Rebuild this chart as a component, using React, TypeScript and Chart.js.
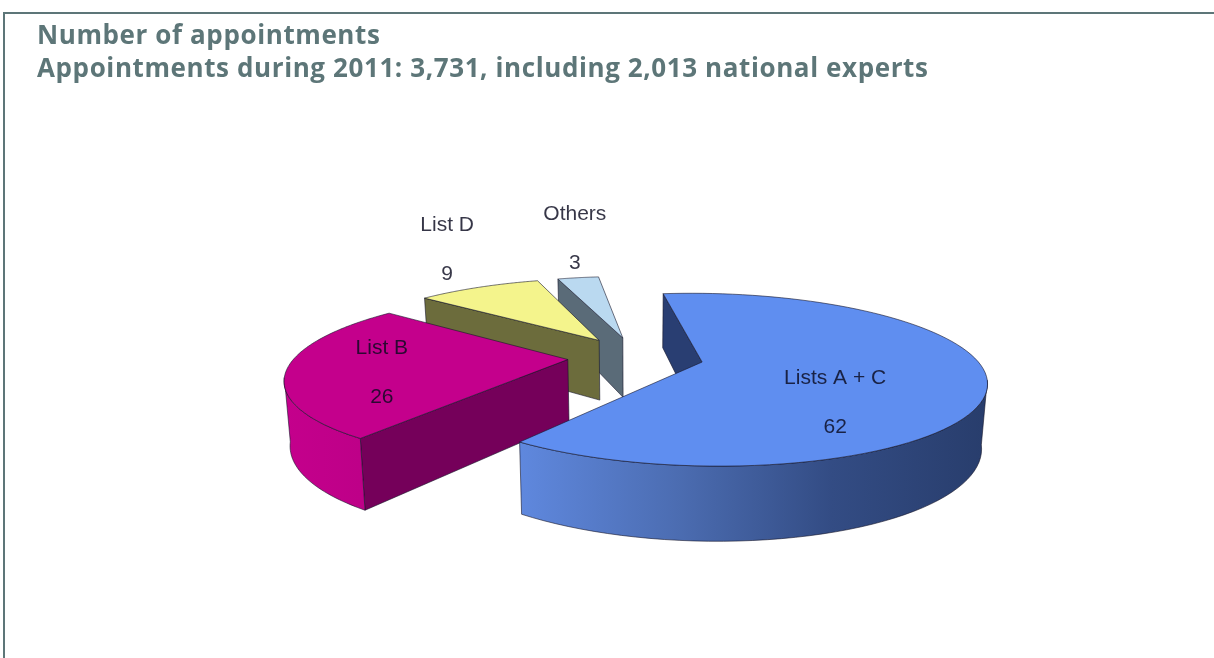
import React, { useEffect, useRef } from "react";
import Chart from "chart.js/auto";

const titleLines = [
  "Number of appointments",
  "Appointments during 2011: 3,731, including 2,013 national experts",
];
const categories = ["Lists A + C", "List B", "List D", "Others"];
const shares = [62, 26, 9, 3];
const topColors = ["#5f8ef0", "#c4008c", "#f4f48c", "#bad9f0"];
const cutColors = ["#293e72", "#75005a", "#6c6c3c", "#5a6b78"];
const wallStops: string[][] = [
  ["#5f88de", "#4c6db2", "#334c84", "#283d6c"],
  ["#c4008c", "#be0088"],
  ["#6c6c3c", "#6c6c3c"],
  ["#5a6b78", "#5a6b78"],
];
const labelOffsets = [
  [133, 40],
  [-186, 13],
  [-152, -91],
  [-48, -100],
];
const explodes = [0.24, 0.25, 0.255, 0.25];

// camera model of the tilted pie
const CX = 637, CY = 357, RX = 277, RY = 82, PERSP = 0.205;
const RADIUS = 0.985;

const project = (u: number, v: number) => {
  const w = 1 + PERSP * v;
  return { x: CX + (RX * u) / w, y: CY - (RY * v) / w };
};
const extrude = (p: { x: number; y: number }) => ({
  x: p.x + (CX - p.x) * 0.017,
  y: p.y + 54 + (p.y - 294) * 0.123,
});

const pie3d = {
  id: "pie3d",
  beforeDraw(chart: any) {
    chart.ctx.letterSpacing = "0.6px";
  },
  beforeDatasetsDraw(chart: any) {
    const ctx: CanvasRenderingContext2D = chart.ctx;
    ctx.letterSpacing = "0px";
    const arcs = chart.getDatasetMeta(0).data;
    const edge = "rgba(20,20,40,0.85)";
    for (let i = arcs.length - 1; i >= 0; i--) {
      const arc = arcs[i];
      const a0: number = arc.startAngle, a1: number = arc.endAngle;
      const mid = (a0 + a1) / 2;
      const ou = explodes[i] * Math.cos(mid), ov = -explodes[i] * Math.sin(mid);
      const at = (a: number) => project(ou + RADIUS * Math.cos(a), ov - RADIUS * Math.sin(a));
      const apex = project(ou, ov);
      const n = 90;
      const rim = Array.from({ length: n + 1 }, (_, k) => at(a0 + ((a1 - a0) * k) / n));

      ctx.save();
      ctx.lineWidth = 0.7;
      ctx.lineJoin = "round";
      ctx.strokeStyle = edge;

      // cut face at the start of the slice
      const s = at(a0), sb = extrude(s), ab = extrude(apex);
      ctx.beginPath();
      ctx.moveTo(s.x, s.y);
      ctx.lineTo(apex.x, apex.y);
      ctx.lineTo(ab.x, ab.y);
      ctx.lineTo(sb.x, sb.y);
      ctx.closePath();
      ctx.fillStyle = cutColors[i];
      ctx.fill();
      ctx.stroke();

      // visible part of the outer wall (from the silhouette point onward)
      const front: { x: number; y: number }[] = [];
      for (let k = 0; k <= n; k++) {
        const a = a0 + ((a1 - a0) * k) / n;
        if (Math.sin(a) > PERSP) front.push(rim[k]);
      }
      if (front.length > 1) {
        const xs = front.map((p) => p.x);
        const g = ctx.createLinearGradient(Math.min(...xs), 0, Math.max(...xs), 0);
        const stops = wallStops[i];
        stops.forEach((c, k) => g.addColorStop(k / (stops.length - 1), c));
        ctx.beginPath();
        front.forEach((p, k) => (k ? ctx.lineTo(p.x, p.y) : ctx.moveTo(p.x, p.y)));
        [...front].reverse().forEach((p) => {
          const b = extrude(p);
          ctx.lineTo(b.x, b.y);
        });
        ctx.closePath();
        ctx.fillStyle = g;
        ctx.fill();
        ctx.stroke();
      }

      // top face
      ctx.beginPath();
      ctx.moveTo(apex.x, apex.y);
      rim.forEach((p) => ctx.lineTo(p.x, p.y));
      ctx.closePath();
      ctx.fillStyle = arc.options.backgroundColor;
      ctx.fill();
      ctx.stroke();
      ctx.restore();
    }

    // labels
    ctx.save();
    ctx.font = '21px "Liberation Sans"';
    ctx.textAlign = "center";
    ctx.textBaseline = "middle";
    ctx.fillStyle = "rgba(10,10,30,0.82)";
    arcs.forEach((arc: any, i: number) => {
      const mid = (arc.startAngle + arc.endAngle) / 2;
      const apex = project(explodes[i] * Math.cos(mid), -explodes[i] * Math.sin(mid));
      const x = apex.x + labelOffsets[i][0], y = apex.y + labelOffsets[i][1];
      ctx.fillText(categories[i], x, y - 24);
      ctx.fillText(String(shares[i]), x, y + 25);
    });
    ctx.restore();
    return false;
  },
  afterDatasetsDraw(chart: any) {
    chart.ctx.letterSpacing = "0.6px";
  },
};

export default function App() {
  const ref = useRef<HTMLCanvasElement>(null);
  useEffect(() => {
    const chart = new Chart(ref.current!, {
      type: "pie",
      data: {
        labels: categories,
        datasets: [{ data: shares, backgroundColor: topColors, borderWidth: 0 }],
      },
      options: {
        responsive: false,
        animation: false,
        devicePixelRatio: 1,
        rotation: -7,
        layout: { padding: { left: 37, top: 20 } },
        plugins: {
          legend: { display: false },
          tooltip: { enabled: false },
          title: {
            display: true,
            text: titleLines,
            align: "start",
            color: "#5d7678",
            font: { family: '"Open Sans"', size: 26, weight: "bold", lineHeight: 1.27 },
            padding: 0,
          },
        },
      },
      plugins: [pie3d],
    } as any);
    return () => chart.destroy();
  }, []);
  return (
    <div style={{ position: "absolute", left: 0, top: 0, width: 1214, height: 658, overflow: "hidden", background: "#fff" }}>
      <canvas ref={ref} width={1214} height={658} style={{ display: "block", position: "absolute", left: 0, top: 0 }} />
      <div style={{ position: "absolute", left: 3, top: 12, right: 0, height: 1.5, background: "#5d7678" }} />
      <div style={{ position: "absolute", left: 3, top: 12, bottom: 0, width: 2, background: "#5d7678" }} />
    </div>
  );
}
